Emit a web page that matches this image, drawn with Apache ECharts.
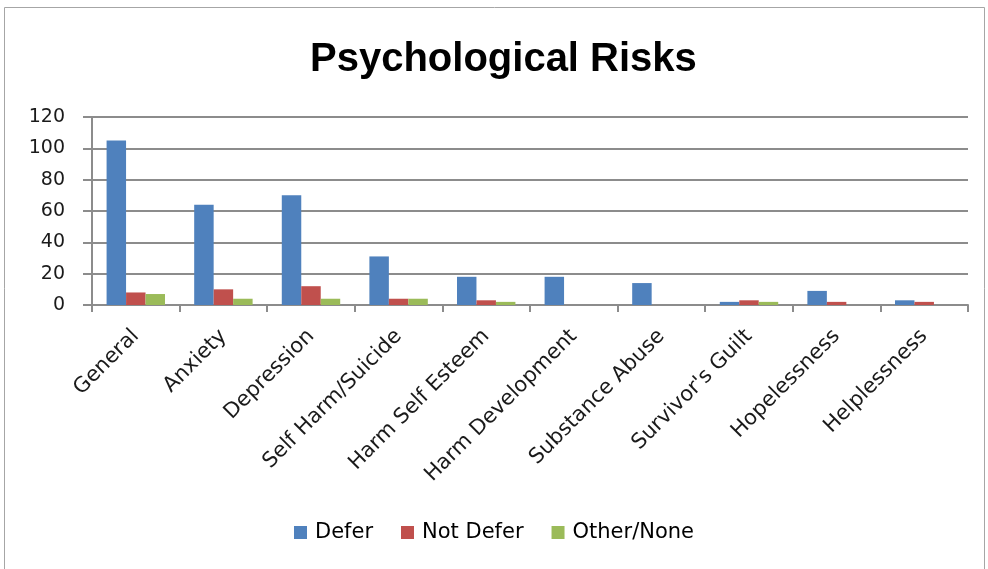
<!DOCTYPE html>
<html>
<head>
<meta charset="utf-8">
<script src="https://cdn.jsdelivr.net/npm/echarts@6/dist/echarts.min.js"></script>
<style>
  html, body { margin: 0; padding: 0; background: #ffffff; }
  #chart { width: 988px; height: 569px; }
</style>
</head>
<body>
<div id="chart"></div>
<script>
// Risk categories along the x axis
const categories = [
  'General', 'Anxiety', 'Depression', 'Self Harm/Suicide', 'Harm Self Esteem',
  'Harm Development', 'Substance Abuse', "Survivor's Guilt", 'Hopelessness', 'Helplessness'
];

// Counts per response group
const deferValues    = [105, 64, 70, 31, 18, 18, 14, 2, 9, 3];
const notDeferValues = [8, 10, 12, 4, 3, 0, 0, 3, 2, 2];
const otherValues    = [7, 4, 4, 4, 2, 0, 0, 2, 0, 0];

// Value axis ticks
const yTicks = [0, 20, 40, 60, 80, 100, 120];

const seriesNames = ['Defer', 'Not Defer', 'Other/None'];
const seriesColors = ['#4F81BD', '#C0504D', '#9BBB59'];
const seriesValues = [deferValues, notDeferValues, otherValues];

const chart = echarts.init(document.getElementById('chart'));

const labelFont = 'DejaVu Sans';

chart.setOption({
  backgroundColor: '#ffffff',
  animation: false,
  title: {
    text: 'Psychological Risks',
    left: 305,
    top: 35,
    textStyle: {
      fontFamily: 'Liberation Sans',
      fontWeight: 'bold',
      fontSize: 40,
      color: '#000000'
    }
  },
  graphic: [{
    type: 'rect',
    shape: { x: 4.5, y: 7.5, width: 980, height: 600 },
    style: { fill: 'none', stroke: '#a6a6a6', lineWidth: 1 },
    silent: true
  }],
  legend: {
    data: seriesNames,
    bottom: 21,
    left: 'center',
    icon: 'rect',
    itemWidth: 13,
    itemHeight: 13,
    itemGap: 28,
    textStyle: {
      fontFamily: labelFont,
      fontSize: 21,
      color: '#000000',
      padding: [0, 0, 0, 3]
    }
  },
  grid: {
    left: 92,
    right: 20,
    top: 117,
    bottom: 264,
    containLabel: false
  },
  xAxis: {
    type: 'category',
    data: categories,
    axisLine: { show: true, lineStyle: { color: '#8c8c8c', width: 2 } },
    axisTick: { show: true, alignWithLabel: false, length: 7, lineStyle: { color: '#8c8c8c', width: 2 } },
    axisLabel: {
      interval: 0,
      rotate: 45,
      margin: 28,
      fontFamily: labelFont,
      fontSize: 21,
      color: '#1a1a1a'
    }
  },
  yAxis: {
    type: 'value',
    min: yTicks[0],
    max: yTicks[yTicks.length - 1],
    interval: 20,
    axisLine: { show: true, lineStyle: { color: '#8c8c8c', width: 2 } },
    axisTick: { show: true, inside: false, length: 9, lineStyle: { color: '#8c8c8c', width: 2 } },
    splitLine: { show: true, lineStyle: { color: '#8c8c8c', width: 2 } },
    axisLabel: {
      margin: 27,
      fontFamily: labelFont,
      fontSize: 19,
      color: '#1a1a1a'
    }
  },
  series: seriesNames.map((name, i) => ({
    name: name,
    type: 'bar',
    data: seriesValues[i],
    barGap: '0%',
    barCategoryGap: '33.3%',
    itemStyle: { color: seriesColors[i] }
  }))
});
</script>
</body>
</html>
